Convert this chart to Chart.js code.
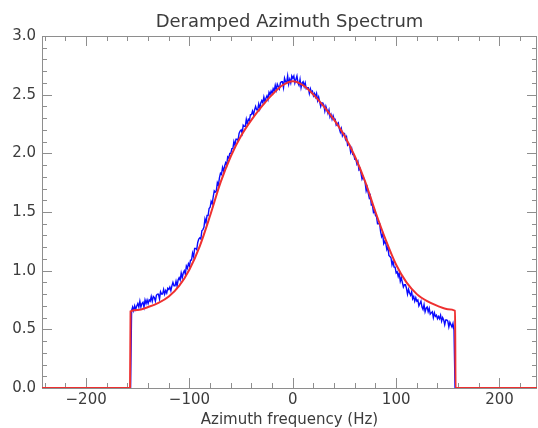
<!DOCTYPE html>
<html><head><meta charset="utf-8">
<script src="https://cdn.jsdelivr.net/npm/chart.js@4/dist/chart.umd.min.js"></script>
<style>html,body{margin:0;padding:0;background:#fff;}#wrap{width:538px;height:428px;}</style>
</head><body><div id="wrap"><canvas id="c" width="538" height="428"></canvas></div>
<script>
const titleText = "Deramped Azimuth Spectrum";
const xTitleText = "Azimuth frequency (Hz)";
const xRange = [-242.7, 236.3];
const yRange = [0, 3];
const xTicks = [-200, -100, 0, 100, 200];
const yTicks = [0, 0.5, 1.0, 1.5, 2.0, 2.5, 3.0];
const xMinorTicks = [-240,-220,-200,-180,-160,-140,-120,-100,-80,-60,-40,-20,0,20,40,60,80,100,120,140,160,180,200,220];
const yMinorTicks = [0,0.1,0.2,0.3,0.4,0.5,0.6,0.7,0.8,0.9,1.0,1.1,1.2,1.3,1.4,1.5,1.6,1.7,1.8,1.9,2.0,2.1,2.2,2.3,2.4,2.5,2.6,2.7,2.8,2.9,3.0];

// model (red)
const modelX = [-242.7,-157.5,-157,-150,-140,-130,-120,-110,-100,-90,-80,-70,-60,-50,-40,-30,-20,-10,0,10,20,30,40,50,60,70,80,90,100,110,120,130,140,150,157,157.5,236.3];
const modelY = [0,0,0.654,0.665,0.69,0.725,0.78,0.87,1.01,1.21,1.47,1.75,1.975,2.15,2.285,2.40,2.50,2.58,2.615,2.58,2.50,2.40,2.285,2.15,1.975,1.76,1.50,1.26,1.05,0.90,0.80,0.74,0.70,0.672,0.658,0,0];

// measured spectrum (blue)
const specX = [-242.7,-157,
-156,-155,-154,-153,-152,-151,
-150,-149,-148,-147,-146,-145,-144,-143,-142,-141,
-140,-139,-138,-137,-136,-135,-134,-133,-132,-131,
-130,-129,-128,-127,-126,-125,-124,-123,-122,-121,
-120,-119,-118,-117,-116,-115,-114,-113,-112,-111,
-110,-109,-108,-107,-106,-105,-104,-103,-102,-101,
-100,-99,-98,-97,-96,-95,-94,-93,-92,-91,
-90,-89,-88,-87,-86,-85,-84,-83,-82,-81,
-80,-79,-78,-77,-76,-75,-74,-73,-72,-71,
-70,-69,-68,-67,-66,-65,-64,-63,-62,-61,
-60,-59,-58,-57,-56,-55,-54,-53,-52,-51,
-50,-49,-48,-47,-46,-45,-44,-43,-42,-41,
-40,-39,-38,-37,-36,-35,-34,-33,-32,-31,
-30,-29,-28,-27,-26,-25,-24,-23,-22,-21,
-20,-19,-18,-17,-16,-15,-14,-13,-12,-11,
-10,-9,-8,-7,-6,-5,-4,-3,-2,-1,
0,1,2,3,4,5,6,7,8,9,
10,11,12,13,14,15,16,17,18,19,
20,21,22,23,24,25,26,27,28,29,
30,31,32,33,34,35,36,37,38,39,
40,41,42,43,44,45,46,47,48,49,
50,51,52,53,54,55,56,57,58,59,
60,61,62,63,64,65,66,67,68,69,
70,71,72,73,74,75,76,77,78,79,
80,81,82,83,84,85,86,87,88,89,
90,91,92,93,94,95,96,97,98,99,
100,101,102,103,104,105,106,107,108,109,
110,111,112,113,114,115,116,117,118,119,
120,121,122,123,124,125,126,127,128,129,
130,131,132,133,134,135,136,137,138,139,
140,141,142,143,144,145,146,147,148,149,
150,151,152,153,154,155,156,
157,236.3];
const specY = [0,0,
0.66,0.69,0.66,0.70,0.67,0.70,
0.72,0.69,0.74,0.69,0.72,0.73,0.69,0.75,0.72,0.75,
0.72,0.75,0.74,0.78,0.74,0.78,0.77,0.74,0.79,0.80,
0.80,0.76,0.82,0.80,0.80,0.84,0.80,0.83,0.81,0.85,
0.84,0.86,0.83,0.87,0.90,0.87,0.87,0.91,0.87,0.92,
0.94,0.92,0.98,0.94,0.98,1.00,0.97,1.04,1.02,1.06,
1.04,1.09,1.09,1.15,1.12,1.19,1.19,1.18,1.24,1.27,
1.28,1.27,1.34,1.35,1.37,1.44,1.41,1.47,1.47,1.53,
1.54,1.59,1.57,1.63,1.68,1.67,1.68,1.75,1.73,1.79,
1.83,1.82,1.88,1.85,1.89,1.92,1.90,1.97,1.96,2.00,
2.00,2.04,2.04,2.10,2.07,2.12,2.12,2.11,2.17,2.19,
2.20,2.17,2.24,2.23,2.23,2.29,2.25,2.29,2.28,2.33,
2.33,2.36,2.33,2.37,2.40,2.37,2.37,2.42,2.38,2.43,
2.45,2.43,2.48,2.44,2.47,2.49,2.46,2.52,2.50,2.53,
2.51,2.55,2.53,2.58,2.54,2.59,2.57,2.55,2.60,2.61,
2.61,2.56,2.64,2.61,2.60,2.66,2.59,2.63,2.60,2.66,
2.64,2.66,2.60,2.63,2.66,2.60,2.58,2.63,2.56,2.60,
2.61,2.57,2.60,2.55,2.56,2.56,2.51,2.55,2.52,2.53,
2.49,2.51,2.48,2.51,2.45,2.48,2.44,2.40,2.43,2.43,
2.41,2.36,2.40,2.37,2.34,2.37,2.31,2.33,2.29,2.32,
2.29,2.29,2.24,2.25,2.26,2.21,2.18,2.21,2.15,2.17,
2.17,2.12,2.14,2.07,2.08,2.07,2.01,2.04,1.99,1.99,
1.95,1.95,1.91,1.93,1.86,1.87,1.83,1.78,1.80,1.78,
1.75,1.68,1.71,1.66,1.62,1.64,1.56,1.56,1.50,1.52,
1.47,1.46,1.40,1.40,1.40,1.33,1.29,1.31,1.23,1.25,
1.23,1.18,1.20,1.13,1.12,1.11,1.05,1.08,1.03,1.03,
0.98,0.99,0.95,0.98,0.91,0.94,0.90,0.86,0.88,0.88,
0.85,0.80,0.84,0.81,0.79,0.82,0.76,0.78,0.74,0.77,
0.74,0.75,0.70,0.72,0.74,0.69,0.67,0.71,0.65,0.68,
0.69,0.65,0.68,0.63,0.64,0.65,0.60,0.64,0.61,0.62,
0.59,0.61,0.59,0.62,0.57,0.60,0.58,0.54,0.58,0.58,
0.57,0.52,0.56,0.54,0.52,0.55,0.49,
0,0];

const FONT = "'DejaVu Sans', sans-serif";
const TEXT = '#3c3c3c';
const AXIS = '#8e8e8e';

const axisPlugin = {
  id: 'axisPlugin',
  beforeDatasetsDraw(chart) {
    const {ctx, chartArea: {left, right, top, bottom}, scales: {x, y}} = chart;
    ctx.save();
    ctx.strokeStyle = AXIS;
    ctx.lineWidth = 1;
    ctx.beginPath();
    ctx.moveTo(left + 0.5, top); ctx.lineTo(left + 0.5, bottom + 1);
    ctx.moveTo(right - 0.5, top); ctx.lineTo(right - 0.5, bottom + 1);
    ctx.moveTo(left, top + 0.5); ctx.lineTo(right, top + 0.5);
    ctx.moveTo(left, bottom + 0.5); ctx.lineTo(right, bottom + 0.5);
    xMinorTicks.forEach(v => {
      const px = Math.round(x.getPixelForValue(v)) + 0.5;
      if (px < left || px > right) return;
      const len = xTicks.includes(v) ? 10 : 5;
      ctx.moveTo(px, bottom); ctx.lineTo(px, bottom - len);
      ctx.moveTo(px, top); ctx.lineTo(px, top + len);
    });
    yMinorTicks.forEach(v => {
      const py = Math.round(y.getPixelForValue(v)) + 0.5;
      const major = yTicks.some(t => Math.abs(t - v) < 1e-6);
      const len = major ? 10 : 5;
      ctx.moveTo(left, py); ctx.lineTo(left + len, py);
      ctx.moveTo(right, py); ctx.lineTo(right - len, py);
    });
    ctx.stroke();
    ctx.restore();
  },
  afterDraw(chart) {
    const {ctx, chartArea: {left, right, bottom}, scales: {x, y}} = chart;
    ctx.save();
    ctx.fillStyle = TEXT;
    ctx.textBaseline = 'middle';
    ctx.font = "15px " + FONT;
    ctx.textAlign = 'center';
    x.ticks.forEach(t => {
      const v = t.value;
      ctx.fillText(v < 0 ? '\u2212' + Math.abs(v) : String(v), x.getPixelForValue(v), bottom + 12);
    });
    ctx.textAlign = 'right';
    y.ticks.forEach(t => {
      ctx.fillText(Number(t.value).toFixed(1), left - 6, y.getPixelForValue(t.value));
    });
    ctx.textAlign = 'center';
    const cx = (left + right) / 2;
    ctx.font = "18px " + FONT;
    ctx.fillText(titleText, cx, 22);
    ctx.font = "15px " + FONT;
    ctx.fillText(xTitleText, cx, 420);
    ctx.restore();
  }
};

new Chart(document.getElementById('c'), {
  type: 'line',
  data: {
    datasets: [
      {
        label: 'spectrum',
        data: specX.map((v, i) => ({x: v, y: specY[i]})),
        borderColor: '#0a0aff',
        borderWidth: 1.4,
        pointRadius: 0,
        tension: 0,
        order: 2
      },
      {
        label: 'model',
        data: modelX.map((v, i) => ({x: v, y: modelY[i]})),
        borderColor: '#ee3030',
        borderWidth: 2,
        pointRadius: 0,
        cubicInterpolationMode: 'monotone',
        order: 1
      }
    ]
  },
  options: {
    responsive: false,
    animation: false,
    layout: {padding: {top: 36, left: 0, right: 1, bottom: 0}},
    plugins: {legend: {display: false}, title: {display: false}, tooltip: {enabled: false}},
    scales: {
      x: {
        type: 'linear', min: xRange[0], max: xRange[1],
        grid: {display: false, drawTicks: false},
        border: {display: false},
        afterBuildTicks: s => { s.ticks = xTicks.map(v => ({value: v})); },
        afterFit: s => { s.height = 40; },
        ticks: {display: false}
      },
      y: {
        type: 'linear', min: yRange[0], max: yRange[1],
        grid: {display: false, drawTicks: false},
        border: {display: false},
        afterBuildTicks: s => { s.ticks = yTicks.map(v => ({value: v})); },
        afterFit: s => { s.width = 42; },
        ticks: {display: false}
      }
    }
  },
  plugins: [axisPlugin]
});
</script></body></html>
